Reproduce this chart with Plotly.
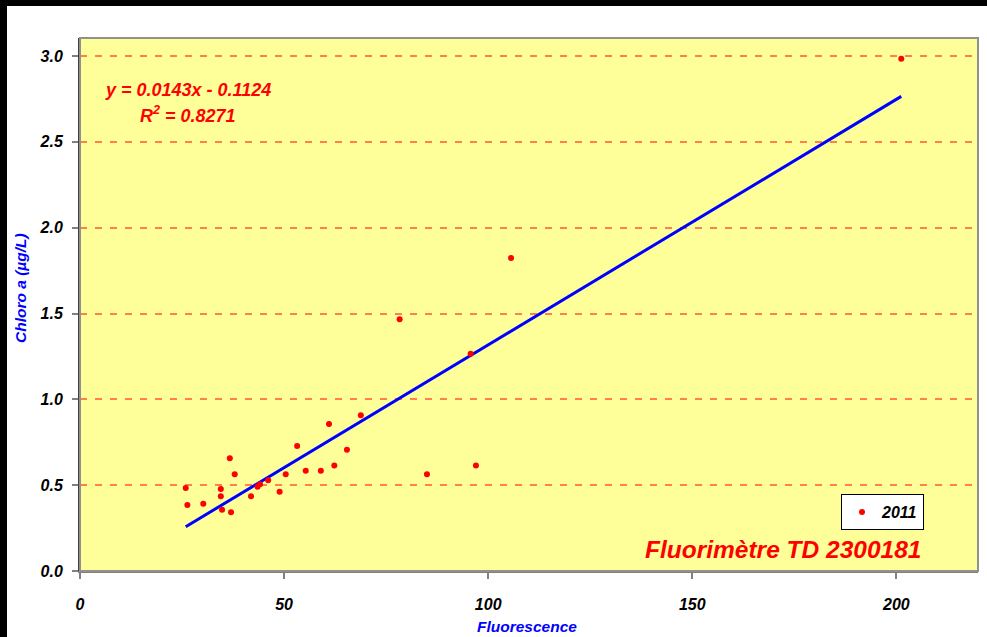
import plotly.graph_objects as go

# ---- data ----
fluorescence = [25.9, 26.3, 30.2, 34.5, 34.5, 34.8, 36.7, 37.0, 37.9, 41.9, 43.5, 44.1,
                46.1, 48.9, 50.4, 53.2, 55.3, 59.0, 61.0, 62.3, 65.4, 68.8, 78.3, 85.0,
                95.7, 97.0, 105.6, 201.2]
chloro = [0.484, 0.385, 0.392, 0.478, 0.435, 0.357, 0.657, 0.342, 0.564, 0.435, 0.491, 0.505,
          0.529, 0.462, 0.564, 0.728, 0.584, 0.584, 0.857, 0.614, 0.707, 0.907, 1.467, 0.564,
          1.266, 0.614, 1.824, 2.984]
series_name = "2011"
slope = 0.0143
intercept = -0.1124
r2 = 0.8271
x_ticks = [0, 50, 100, 150, 200]
y_ticks = [0.0, 0.5, 1.0, 1.5, 2.0, 2.5, 3.0]

W, H = 987, 637
L, R, T, B = 80, 978, 38, 571  # plot area in pixels


def px(xp):
    return (xp - L) / (R - L)


def py(yp):
    return (B - yp) / (B - T)


FONT = "Liberation Sans, Arial, sans-serif"

fig = go.Figure()

x_fit = [min(fluorescence), max(fluorescence)]
y_fit = [slope * v + intercept for v in x_fit]
fig.add_trace(go.Scatter(x=x_fit, y=y_fit, mode="lines",
                         line=dict(color="#0000FF", width=3), showlegend=False,
                         hoverinfo="skip"))
fig.add_trace(go.Scatter(x=fluorescence, y=chloro, mode="markers", name=series_name,
                         marker=dict(color="#FF0000", size=6)))

fig.update_layout(
    width=W, height=H,
    margin=dict(l=L, r=W - R, t=T, b=H - B, pad=0),
    paper_bgcolor="#FFFFFF",
    plot_bgcolor="#FFFF99",
    font=dict(family=FONT, color="#000000"),
    showlegend=True,
    legend=dict(x=px(841), y=py(494), xanchor="left", yanchor="top",
                bgcolor="#FFFFFF", bordercolor="#000000", borderwidth=1,
                font=dict(family=FONT, size=16, color="#000000", weight="bold", style="italic"),
                itemwidth=30, tracegroupgap=0),
    xaxis=dict(range=[0, 220], tickvals=x_ticks, ticktext=[str(v) for v in x_ticks],
               showgrid=False, zeroline=False,
               showline=True, linecolor="#808080", linewidth=2,
               ticks="outside", ticklen=6, tickwidth=2, tickcolor="#808080",
               ticklabelstandoff=12,
               tickfont=dict(family=FONT, size=16, color="#000000", weight="bold", style="italic")),
    yaxis=dict(range=[0, 3.105], tickvals=y_ticks, ticktext=["%.1f" % v for v in y_ticks],
               showgrid=True, gridcolor="#FF7F50", gridwidth=1.5, griddash="7px,8px",
               zeroline=False,
               showline=True, linecolor="#404040", linewidth=2,
               ticks="outside", ticklen=6, tickwidth=2, tickcolor="#808080",
               ticklabelstandoff=6,
               tickfont=dict(family=FONT, size=16, color="#000000", weight="bold", style="italic")),
)

# plot area border (top/right gray)
fig.add_shape(type="rect", xref="paper", yref="paper", x0=0, x1=1, y0=0, y1=1,
              line=dict(color="#909090", width=2), fillcolor="rgba(0,0,0,0)", layer="above")
# black frame bands (top & left)
fig.add_shape(type="rect", xref="paper", yref="paper", x0=px(0), x1=px(W), y0=py(0), y1=py(6),
              line=dict(width=0), fillcolor="#000000", layer="above")
fig.add_shape(type="rect", xref="paper", yref="paper", x0=px(0), x1=px(7), y0=py(H), y1=py(0),
              line=dict(width=0), fillcolor="#000000", layer="above")

# annotations
fig.add_annotation(xref="paper", yref="paper", x=px(188), y=py(90), xanchor="center", yanchor="middle",
                   text="<b><i>y = %.4fx - %.4f</i></b>" % (slope, -intercept), showarrow=False,
                   font=dict(family=FONT, size=18, color="#FF0000"))
fig.add_annotation(xref="paper", yref="paper", x=px(188), y=py(114), xanchor="center", yanchor="middle",
                   text="<b><i>R<sup>2</sup> = %.4f</i></b>" % r2, showarrow=False,
                   font=dict(family=FONT, size=18, color="#FF0000"))
fig.add_annotation(xref="paper", yref="paper", x=px(923), y=py(549), xanchor="right", yanchor="middle",
                   text="<b><i>Fluorimètre TD 2300181</i></b>", showarrow=False,
                   font=dict(family=FONT, size=24.5, color="#FF0000"))
fig.add_annotation(xref="paper", yref="paper", x=px(527), y=py(626), xanchor="center", yanchor="middle",
                   text="<b><i>Fluorescence</i></b>", showarrow=False,
                   font=dict(family=FONT, size=15.5, color="#0000FF"))
fig.add_annotation(xref="paper", yref="paper", x=px(20), y=py(288), xanchor="center", yanchor="middle",
                   text="<b><i>Chloro a (µg/L)</i></b>", showarrow=False, textangle=-90,
                   font=dict(family=FONT, size=15.5, color="#0000FF"))

fig.write_html("out.html", config={"displayModeBar": False},
               post_script="document.body.style.margin='0';document.body.style.overflow='hidden';")
